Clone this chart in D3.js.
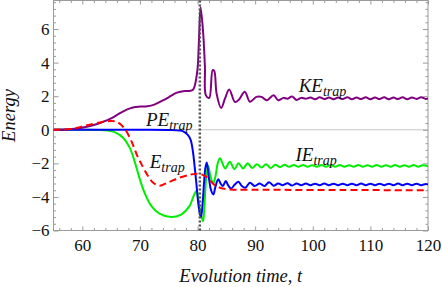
<!DOCTYPE html>
<html>
<head>
<meta charset="utf-8">
<script src="https://cdn.jsdelivr.net/npm/d3@7"></script>
<style>
  body { margin: 0; background: #fff; }
</style>
</head>
<body>
<div id="chart"></div>
<script>

// kinetic energy (purple)
var kePoints = [
  [55,0],[57,0.02],[59,0.07],[60.6,0.16],[62,0.28],[63.5,0.46],[65,0.68],[66.4,0.96],
  [67.7,1.2],[68.8,1.33],[70,1.38],[71.3,1.4],[72.5,1.5],[74,1.75],[75.3,2.0],[76.3,2.2],
  [77.5,2.3],[78.6,2.31],[79.24,2.39],[79.94,3.45],[80.23,5.2],[80.53,7.3],[80.98,5.75],
  [81.28,3.75],[81.45,2.05],[82.03,1.9],[82.62,3.55],[82.9,3.5],[83.31,2.15],[84.1,1.3],
  [84.76,1.85],[85.5,2.4],[86.5,1.65],[87.2,1.8],[88.2,2.27],[89.1,1.67],[90.2,1.96],
  [91.1,1.96],[92.0,1.76],[93.2,2.05],[94.0,1.76],[94.9,1.9],[95.6,1.85],[96.4,1.98],
  [97.2,1.78],[98.0,1.9],[98.8,1.85],[99.6,1.92],[100.4,1.82],[101.2,1.93],[102.0,1.83],
  [102.8,1.92],[103.6,1.82],[104.4,1.92],[105.2,1.83],[106.0,1.93],[106.8,1.82],[107.6,1.92],
  [108.4,1.83],[109.2,1.93],[110.0,1.82],[110.8,1.92],[111.6,1.83],[112.4,1.93],[113.2,1.82],
  [114.0,1.92],[114.8,1.83],[115.6,1.93],[116.4,1.82],[117.2,1.92],[118.0,1.84],[118.8,1.93],
  [119.6,1.84],[120,1.86]
];

// potential energy (blue)
var pePoints = [
  [55,0],[60,0],[65,0],[70,0],[75,-0.01],[77,-0.05],[77.5,-0.1],[78.3,-0.3],[78.8,-0.6],
  [79.2,-1.3],[79.5,-2.2],[79.8,-3.2],[80.1,-4.3],[80.4,-5.0],[80.6,-5.2],[80.9,-4.3],
  [81.1,-3.3],[81.35,-2.3],[81.6,-1.95],[81.95,-2.8],[82.35,-3.6],[82.75,-3.85],[83.1,-3.4],
  [83.6,-2.95],[84.0,-3.2],[84.4,-3.35],[84.9,-3.05],[85.3,-3.3],[85.8,-3.5],[86.5,-3.25],
  [87.1,-3.1],[87.7,-3.35],[88.3,-3.45],[89.1,-3.15],[89.9,-3.35],[90.8,-3.2],[91.6,-3.35],
  [92.4,-3.12],[93.2,-3.33],[94.0,-3.2],[94.8,-3.3],[95.6,-3.18],[96.4,-3.32],[97.2,-3.2],
  [98.0,-3.3],[98.8,-3.2],[99.6,-3.3],[100.4,-3.21],[101.2,-3.3],[102.0,-3.2],[102.8,-3.3],
  [103.6,-3.21],[104.4,-3.3],[105.2,-3.21],[106.0,-3.3],[106.8,-3.21],[107.6,-3.3],[108.4,-3.2],
  [109.2,-3.3],[110.0,-3.21],[110.8,-3.3],[111.6,-3.21],[112.4,-3.3],[113.2,-3.21],[114.0,-3.3],
  [114.8,-3.2],[115.6,-3.3],[116.4,-3.21],[117.2,-3.3],[118.0,-3.21],[118.8,-3.3],[119.6,-3.23],
  [120,-3.26]
];

// internal energy (green)
var iePoints = [
  [55,0],[60,0],[63,-0.01],[64.5,-0.05],[65.6,-0.14],[67,-0.45],[68.2,-1.05],[69.05,-1.85],
  [69.9,-2.85],[70.8,-3.75],[71.9,-4.5],[73.4,-5.0],[75.4,-5.2],[77.15,-5.05],[78.6,-4.55],
  [79.2,-4.05],[79.6,-3.74],[79.85,-3.63],[80.1,-4.05],[80.5,-4.9],[80.95,-5.45],[81.15,-4.8],
  [81.35,-3.6],[81.55,-2.7],[81.85,-2.15],[82.2,-2.7],[82.7,-3.2],[83.1,-2.8],[83.5,-2.0],
  [83.9,-1.7],[84.8,-2.3],[85.6,-1.9],[86.4,-2.35],[87.1,-2.0],[87.9,-2.3],[88.7,-2.0],
  [89.5,-2.28],[90.3,-2.05],[91.1,-2.25],[91.9,-2.05],[92.7,-2.28],[93.5,-2.08],[94.3,-2.22],
  [95.1,-2.09],[95.9,-2.21],[96.7,-2.1],[97.5,-2.21],[98.3,-2.1],[99.1,-2.2],[99.9,-2.11],
  [100.7,-2.2],[101.5,-2.1],[102.3,-2.2],[103.1,-2.11],[103.9,-2.2],[104.7,-2.1],[105.5,-2.2],
  [106.3,-2.11],[107.1,-2.2],[107.9,-2.1],[108.7,-2.2],[109.5,-2.11],[110.3,-2.2],[111.1,-2.1],
  [111.9,-2.2],[112.7,-2.11],[113.5,-2.2],[114.3,-2.1],[115.1,-2.2],[115.9,-2.11],[116.7,-2.2],
  [117.5,-2.1],[118.3,-2.2],[119.1,-2.11],[120,-2.18]
];

// total energy (red dashed)
var ePoints = [
  [55,0],[58.3,0.06],[60.6,0.25],[63.5,0.46],[65,0.52],[66.1,0.45],[67.3,0.08],[68.45,-0.62],
  [69.6,-1.6],[70.5,-2.2],[71.4,-2.75],[72.2,-3.12],[73.4,-3.33],[74.8,-3.15],[76.9,-2.85],
  [78.9,-2.66],[80.2,-2.62],[81.3,-2.75],[82.1,-3.0],[83.0,-3.3],[83.9,-3.45],[85.5,-3.55],
  [88,-3.57],[95,-3.58],[105,-3.59],[120,-3.6]
];

var markerTime = 80.4;

var xMajor = [60, 70, 80, 90, 100, 110, 120];
var yMajor = [-6, -4, -2, 0, 2, 4, 6];

var labels = [
  { main: "KE", sub: "trap", t: 97.55, v: 2.25 },
  { main: "PE", sub: "trap", t: 71.05, v: 0.22 },
  { main: "E",  sub: "trap", t: 71.7,  v: -2.28 },
  { main: "IE", sub: "trap", t: 97.0,  v: -1.86 }
];

var serif = "'Liberation Serif', 'DejaVu Serif', 'Times New Roman', serif";

var width = 442, height = 287;

var svg = d3.select("#chart")
    .append("svg")
    .attr("width", width)
    .attr("height", height)
    .attr("font-family", serif);

var x = d3.scaleLinear().domain([55, 120]).range([53.5, 428]);
var y = d3.scaleLinear().domain([-6, 7.7]).range([230.5, 0.5]);

var xMinor = d3.range(56, 120.01, 2).filter(function(d) { return d % 10 != 0; });
var yMinor = d3.range(-6, 7.7, 0.4).map(function(d) { return +d.toFixed(1); })
    .filter(function(d) { return Math.abs(d % 2) > 0.01 && Math.abs(d % 2) < 1.99; });

var frameColor = "#9a9a9a";

// zero line
svg.append("line")
    .attr("x1", x(55)).attr("x2", x(120))
    .attr("y1", y(0)).attr("y2", y(0))
    .attr("stroke", "#c8c8c8")
    .attr("stroke-width", 1);

function styleAxis(g) {
    g.attr("font-family", serif).attr("font-size", 17);
    g.select(".domain").remove();
    g.selectAll("line").attr("stroke", frameColor);
    g.selectAll("text").attr("fill", "#111");
}

// bottom
svg.append("g").attr("transform", "translate(0," + y(-6) + ")")
    .call(d3.axisBottom(x).tickValues(xMajor).tickSize(-4).tickSizeOuter(0).tickPadding(8))
    .call(styleAxis);
svg.append("g").attr("transform", "translate(0," + y(-6) + ")")
    .call(d3.axisBottom(x).tickValues(xMinor).tickSize(-2.5).tickSizeOuter(0).tickFormat(""))
    .call(styleAxis);
// top
svg.append("g").attr("transform", "translate(0," + y(7.7) + ")")
    .call(d3.axisTop(x).tickValues(xMajor).tickSize(-4).tickSizeOuter(0).tickFormat(""))
    .call(styleAxis);
svg.append("g").attr("transform", "translate(0," + y(7.7) + ")")
    .call(d3.axisTop(x).tickValues(xMinor).tickSize(-2.5).tickSizeOuter(0).tickFormat(""))
    .call(styleAxis);
// left
svg.append("g").attr("transform", "translate(" + x(55) + ",0)")
    .call(d3.axisLeft(y).tickValues(yMajor).tickSize(-5).tickSizeOuter(0).tickPadding(4)
        .tickFormat(function(d) { return d < 0 ? "\u2212" + Math.abs(d) : d; }))
    .call(styleAxis);
svg.append("g").attr("transform", "translate(" + x(55) + ",0)")
    .call(d3.axisLeft(y).tickValues(yMinor).tickSize(-2.5).tickSizeOuter(0).tickFormat(""))
    .call(styleAxis);
// right
svg.append("g").attr("transform", "translate(" + x(120) + ",0)")
    .call(d3.axisRight(y).tickValues(yMajor).tickSize(-5).tickSizeOuter(0).tickFormat(""))
    .call(styleAxis);
svg.append("g").attr("transform", "translate(" + x(120) + ",0)")
    .call(d3.axisRight(y).tickValues(yMinor).tickSize(-2.5).tickSizeOuter(0).tickFormat(""))
    .call(styleAxis);

// frame
svg.append("rect")
    .attr("x", x(55)).attr("y", y(7.7))
    .attr("width", x(120) - x(55)).attr("height", y(-6) - y(7.7))
    .attr("fill", "none")
    .attr("stroke", frameColor)
    .attr("stroke-width", 1);

svg.append("clipPath").attr("id", "plotclip")
    .append("rect")
    .attr("x", x(55)).attr("y", y(7.7))
    .attr("width", x(120) - x(55)).attr("height", y(-6) - y(7.7));

var line = d3.line()
    .x(function(d) { return x(d[0]); })
    .y(function(d) { return y(d[1]); })
    .curve(d3.curveCatmullRom.alpha(0.5));

var plot = svg.append("g").attr("clip-path", "url(#plotclip)");

var series = [
  { data: iePoints, color: "#00ee00", dash: null },
  { data: pePoints, color: "#0000ff", dash: null },
  { data: kePoints, color: "#800080", dash: null },
  { data: ePoints,  color: "#ff0000", dash: "7,4" }
];

plot.selectAll(".curve")
    .data(series)
    .enter()
    .append("path")
    .attr("class", "curve")
    .attr("d", function(d) { return line(d.data); })
    .attr("fill", "none")
    .attr("stroke", function(d) { return d.color; })
    .attr("stroke-width", 2)
    .attr("stroke-dasharray", function(d) { return d.dash; });

// dotted marker
svg.append("line")
    .attr("x1", x(markerTime)).attr("x2", x(markerTime))
    .attr("y1", y(7.7)).attr("y2", y(-6) + 2)
    .attr("stroke", "#505050")
    .attr("stroke-width", 2.5)
    .attr("stroke-dasharray", "2,2");

// curve labels
var lab = svg.selectAll(".lab")
    .data(labels)
    .enter()
    .append("text")
    .attr("class", "lab")
    .attr("x", function(d) { return x(d.t); })
    .attr("y", function(d) { return y(d.v); })
    .attr("font-style", "italic")
    .attr("font-size", 19)
    .attr("fill", "#111");
lab.append("tspan").text(function(d) { return d.main; });
lab.append("tspan")
    .attr("dy", 4)
    .attr("font-size", 14)
    .text(function(d) { return d.sub; });

// axis titles
svg.append("text")
    .attr("x", (x(55) + x(120)) / 2)
    .attr("y", 282)
    .attr("text-anchor", "middle")
    .attr("font-style", "italic")
    .attr("font-size", 18.5)
    .attr("fill", "#111")
    .text("Evolution time, t");

svg.append("text")
    .attr("transform", "translate(15," + (y(-6) + y(7.7)) / 2 + ") rotate(-90)")
    .attr("text-anchor", "middle")
    .attr("font-style", "italic")
    .attr("font-size", 18.5)
    .attr("fill", "#111")
    .text("Energy");

</script>
</body>
</html>
